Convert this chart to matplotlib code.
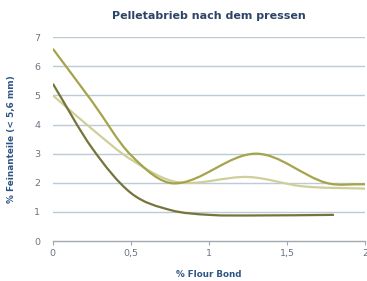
import matplotlib
matplotlib.use("Agg")
import matplotlib.pyplot as plt
from matplotlib.path import Path
from matplotlib.patches import PathPatch

# data
olive_x = [0, 0.25, 0.5, 0.78, 1.3, 1.75, 2.0]
olive_y = [6.6, 4.8, 2.95, 1.98, 3.0, 2.0, 1.95]

light_x = [0, 0.25, 0.5, 0.8, 1.25, 1.6, 2.0]
light_y = [5.0, 3.85, 2.8, 2.02, 2.2, 1.88, 1.8]

dark_x = [0, 0.25, 0.5, 0.75, 1.0, 1.3, 1.8]
dark_y = [5.4, 3.2, 1.65, 1.07, 0.9, 0.88, 0.9]

x_ticks = [0, 0.5, 1, 1.5, 2]
x_labels = ["0", "0,5", "1", "1,5", "2"]
y_ticks = [0, 1, 2, 3, 4, 5, 6, 7]


def smooth_path(xs, ys):
    # smooth line as cubic bezier segments, slopes from neighbouring points
    n = len(xs)
    m = []
    for i in range(n):
        a = max(i - 1, 0)
        b = min(i + 1, n - 1)
        m.append((ys[b] - ys[a]) / (xs[b] - xs[a]))
    verts = [(xs[0], ys[0])]
    codes = [Path.MOVETO]
    for i in range(n - 1):
        h = (xs[i + 1] - xs[i]) / 3
        verts += [(xs[i] + h, ys[i] + m[i] * h),
                  (xs[i + 1] - h, ys[i + 1] - m[i + 1] * h),
                  (xs[i + 1], ys[i + 1])]
        codes += [Path.CURVE4] * 3
    return Path(verts, codes)


fig = plt.figure(figsize=(3.67, 2.81), dpi=100)
ax = fig.add_axes([0.144, 0.142, 0.851, 0.726])

for y in y_ticks[1:]:
    ax.axhline(y, color="#bccbd6", lw=1.0, zorder=1)

for xs, ys, col in [
    (light_x, light_y, "#cfcf9a"),
    (olive_x, olive_y, "#a5a44a"),
    (dark_x, dark_y, "#75743a"),
]:
    ax.add_patch(PathPatch(smooth_path(xs, ys), fill=False, edgecolor=col,
                           lw=1.6, zorder=3))

ax.set_xlim(0, 2)
ax.set_ylim(0, 7)
ax.set_xticks(x_ticks)
ax.set_xticklabels(x_labels)
ax.set_yticks(y_ticks)

for s in ["top", "right", "left"]:
    ax.spines[s].set_visible(False)
ax.spines["bottom"].set_color("#a0a8b0")
ax.spines["bottom"].set_linewidth(1.0)
ax.tick_params(axis="y", length=0, pad=9, labelsize=6.8, labelcolor="#6a7482")
ax.tick_params(axis="x", length=3, color="#a0a8b0", pad=3, labelsize=6.8,
               labelcolor="#6a7482")

ax.set_title("Pelletabrieb nach dem pressen", fontsize=8.0, fontweight="bold",
             color="#2c4466", pad=13, x=0.5)
ax.set_xlabel("% Flour Bond", fontsize=6.3, fontweight="bold", color="#2f5585",
              labelpad=8)
ax.set_ylabel("% Feinanteile (< 5,6 mm)", fontsize=6.4, fontweight="bold",
              color="#2f5585", labelpad=13)

fig.savefig("out.png", dpi=100)
